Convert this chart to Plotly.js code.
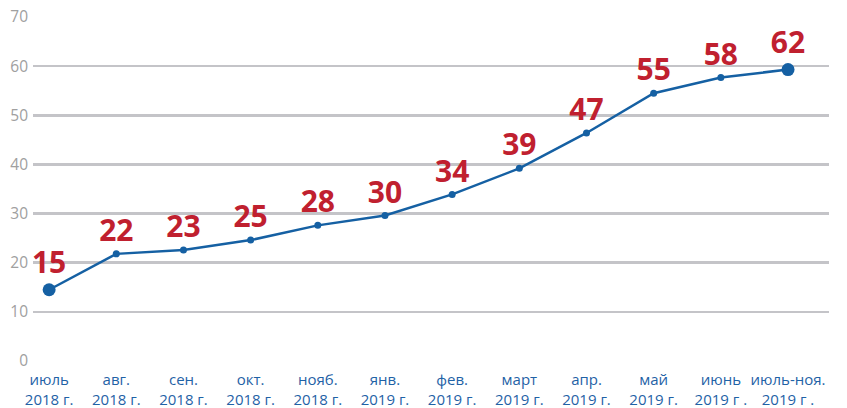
<!DOCTYPE html>
<html>
<head>
<meta charset="utf-8">
<script src="https://cdn.plot.ly/plotly-3.0.1.min.js"></script>
<style>html,body{margin:0;padding:0;background:#fff;}#chart{width:847px;height:408px;}</style>
</head>
<body>
<div id="chart"></div>
<script>
const categories = ["июль<br>2018 г.", "авг.<br>2018 г.", "сен.<br>2018 г.", "окт.<br>2018 г.", "нояб.<br>2018 г.", "янв.<br>2019 г.", "фев.<br>2019 г.", "март<br>2019 г.", "апр.<br>2019 г.", "май<br>2019 г.", "июнь<br>2019 г .", "июль-ноя.<br>2019 г ."];
const values = [14.5, 21.8, 22.6, 24.6, 27.6, 29.6, 33.9, 39.2, 46.4, 54.5, 57.7, 59.3];
const valueLabels = ["15", "22", "23", "25", "28", "30", "34", "39", "47", "55", "58", "62"];
const yTicks = [0, 10, 20, 30, 40, 50, 60, 70];

const idx = categories.map((c, i) => i);
const markerSizes = values.map((v, i) => (i === 0 || i === values.length - 1) ? 13 : 7);

const trace = {
  x: idx,
  y: values,
  type: "scatter",
  mode: "lines+markers+text",
  text: valueLabels,
  textposition: "top center",
  textfont: {family: "Open Sans", size: 30, color: "#c0202f", weight: 700},
  line: {color: "#1560a3", width: 2.5},
  marker: {color: "#1560a3", size: markerSizes, opacity: 1, line: {width: 0}},
  opacity: 1,
  cliponaxis: false,
  hoverinfo: "none"
};

const layout = {
  width: 847, height: 408,
  margin: {l: 33, r: 18, t: 17, b: 47},
  paper_bgcolor: "#fff", plot_bgcolor: "#fff",
  showlegend: false,
  font: {family: "Open Sans"},
  xaxis: {
    range: [-0.24, 11.61],
    tickvals: idx, ticktext: categories,
    tickangle: 0,
    showgrid: false, zeroline: false, showline: false,
    ticks: "", tickfont: {size: 15, color: "#1f62a6"},
    ticklabelstandoff: 8,
    fixedrange: true
  },
  yaxis: {
    range: [0, 70],
    tickvals: yTicks,
    showgrid: true, gridcolor: "#c4c4c8", gridwidth: 2.5,
    zeroline: false, showline: false, ticks: "",
    tickfont: {size: 15.5, color: "#a0a0a0"},
    ticklabelstandoff: 4,
    fixedrange: true
  }
};

Plotly.newPlot("chart", [trace], layout, {displayModeBar: false, staticPlot: true});
</script>
</body>
</html>
